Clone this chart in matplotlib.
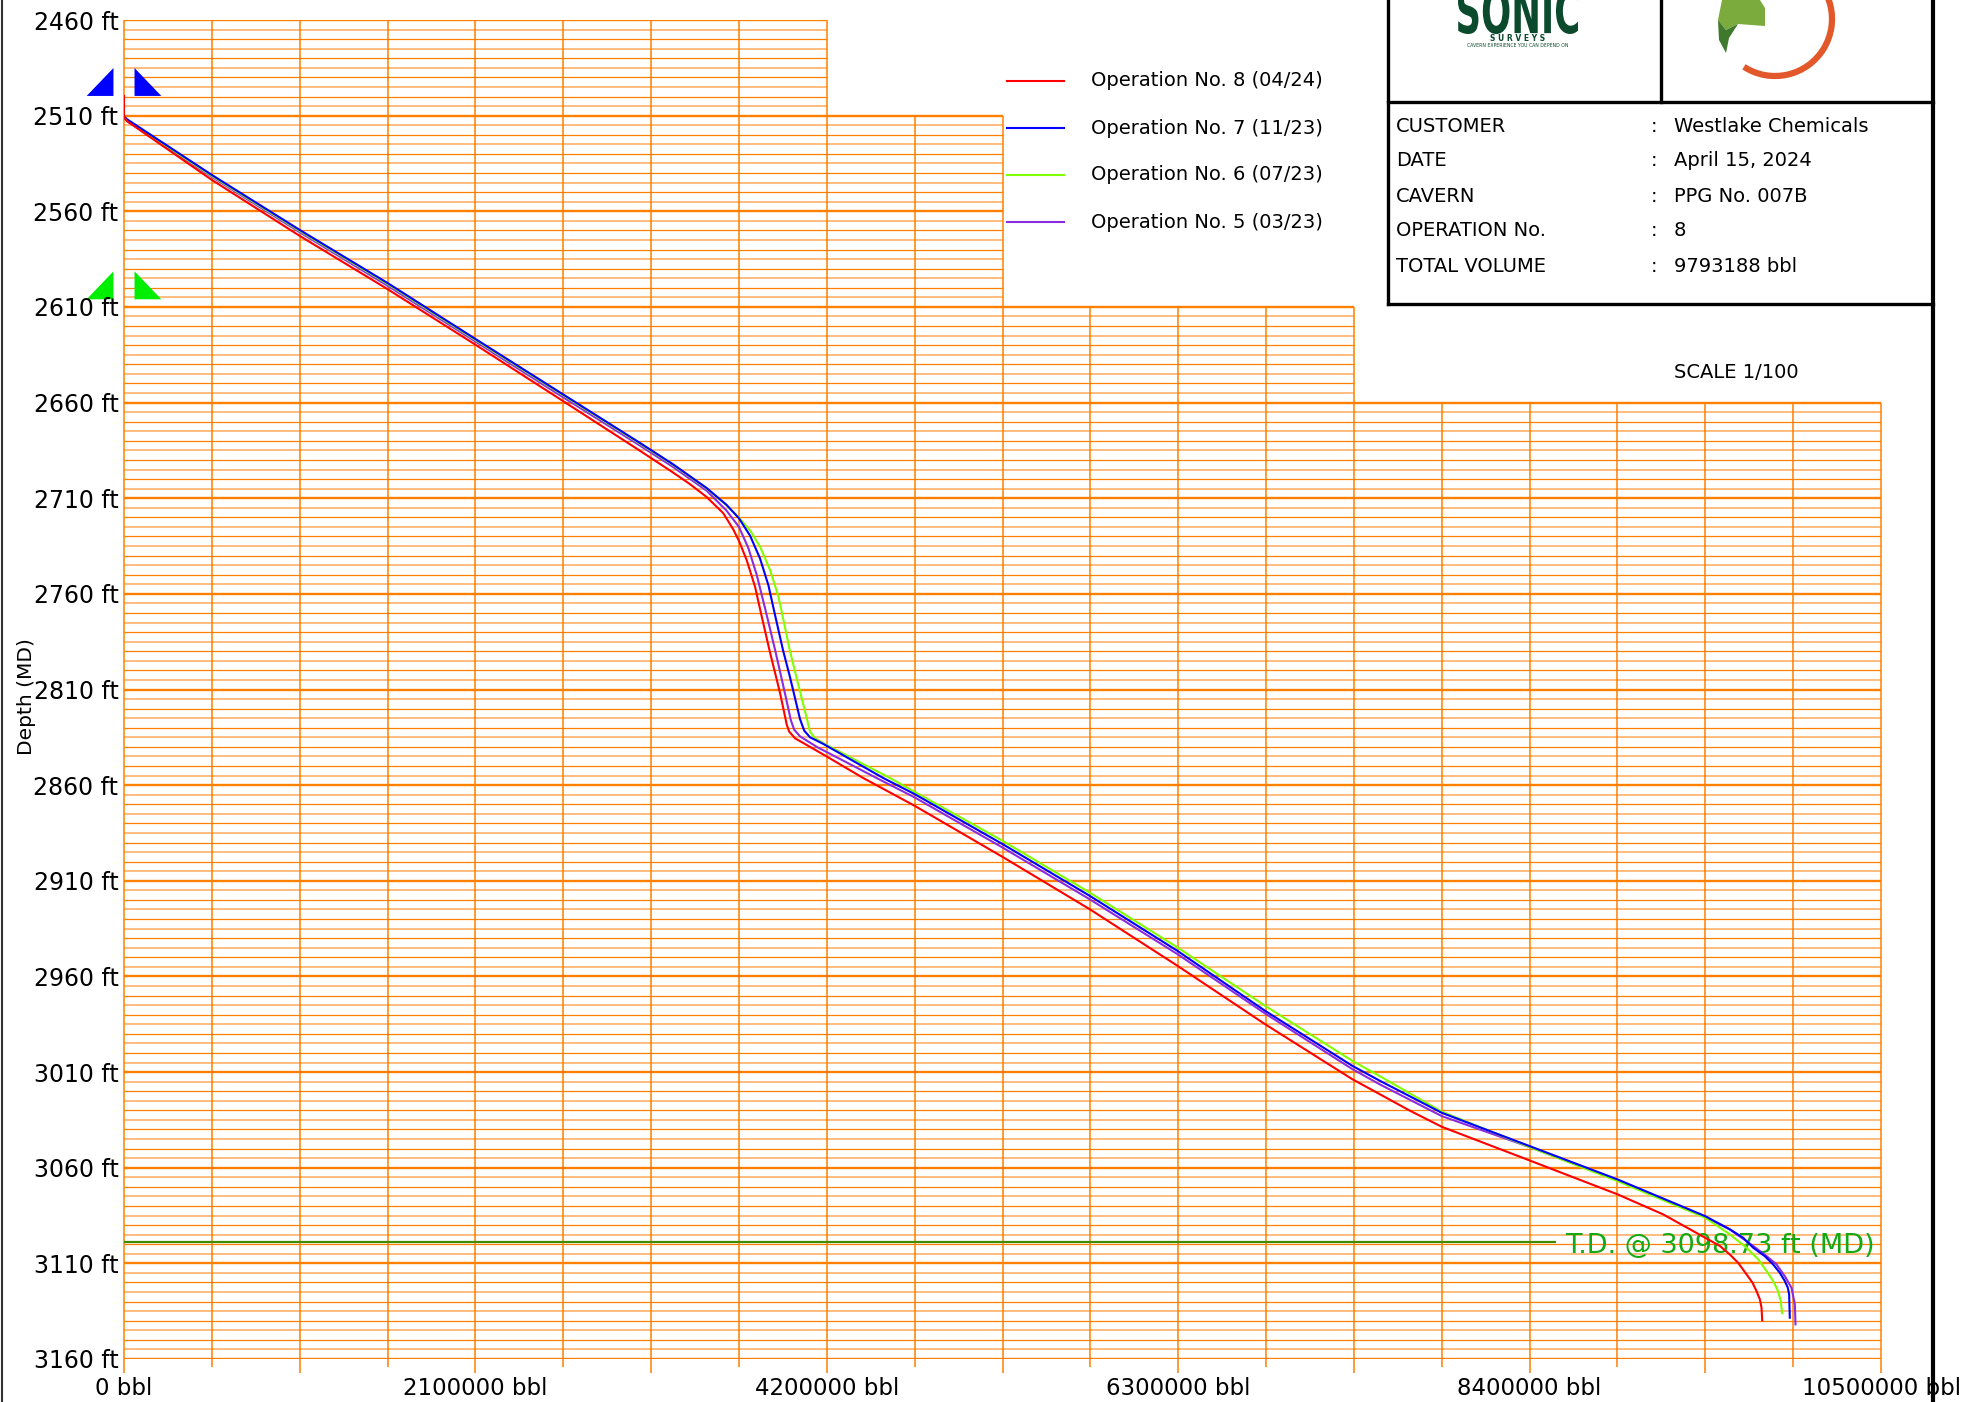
import numpy as np
import matplotlib.pyplot as plt
from matplotlib.patches import Polygon, Arc, PathPatch
from matplotlib.textpath import TextPath
from matplotlib.font_manager import FontProperties
from matplotlib.transforms import Affine2D

W, H = 1979, 1402

# cumulative volume (bbl) vs measured depth (ft) for each survey
op8_depth = [2499.7, 2511, 2513, 2543.6, 2572.9, 2600.8, 2629.9, 2659.5, 2685.0, 2696.5, 2702.5,
             2709.3, 2717.8, 2726.3, 2732.3, 2742.3, 2756.2, 2771.8, 2789.3, 2812, 2828.5, 2832,
             2835.5, 2838.5, 2845, 2856.3, 2870.8, 2897.5, 2924.8, 2954.4, 2984.9, 3013.7, 3030.2,
             3038.6, 3056.2, 3073.9, 3084.4, 3096.6, 3100.9, 3105.3, 3109.7, 3115.7, 3120.1,
             3124.5, 3128.8, 3133.2, 3139.8]
op8_vol = [0, 0, 20000, 525000, 1051000, 1577000, 2103000, 2629000, 3080000, 3280000, 3380000,
           3481000, 3581000, 3641000, 3675000, 3721000, 3771000, 3811000, 3857000, 3921000, 3961000, 3975000,
           4010000, 4070000, 4199000, 4418000, 4725000, 5250000, 5770000, 6295000, 6818000, 7340000, 7685000,
           7875000, 8400000, 8925000, 9198000, 9449000, 9537000, 9596000, 9646000, 9696000, 9732000,
           9756000, 9776000, 9786000, 9790000]

op7_depth = [2510.5, 2512, 2541, 2569.8, 2597.6, 2626.9, 2656, 2680.9, 2692.2, 2704.6, 2713.5,
             2720.5, 2729.5, 2741.5, 2755.5, 2771.2, 2789.3, 2803.5, 2825.5, 2831.5, 2835, 2838.5,
             2856.3, 2864.7, 2890.8, 2917.8, 2946.6, 2977.9, 3006.7, 3014.5, 3031.3, 3048.7,
             3066.1, 3085.3, 3092.2, 3096.6, 3101.8, 3106.2, 3110.5, 3114.9, 3119.2, 3122.7,
             3126.2, 3138.4]
op7_vol = [0, 20000, 525000, 1051000, 1577000, 2103000, 2629000, 3080000, 3280000, 3481000, 3601000,
           3675000, 3741000, 3801000, 3851000, 3891000, 3938000, 3980000, 4040000, 4065000, 4100000, 4180000,
           4538000, 4725000, 5250000, 5770000, 6295000, 6818000, 7340000, 7504000, 7875000, 8400000,
           8925000, 9449000, 9596000, 9676000, 9736000, 9805000, 9855000, 9895000, 9925000, 9943000,
           9951000, 9955000]

op6_depth = [2511, 2512.5, 2541.5, 2570.3, 2598.1, 2627.4, 2656.4, 2681.3, 2692.5, 2704.9, 2713.6,
             2720.2, 2726.8, 2735.3, 2747.5, 2761.4, 2775.3, 2789.3, 2811, 2832, 2835.5, 2839,
             2856.3, 2863.5, 2889.1, 2916.1, 2944.8, 2975.3, 3004.1, 3012.1, 3030.7, 3049.2,
             3067, 3086.1, 3094.8, 3101.8, 3107.9, 3114, 3119.2, 3124.5, 3129.7, 3136.1]
op6_vol = [0, 20000, 525000, 1051000, 1577000, 2103000, 2629000, 3080000, 3280000, 3481000, 3601000,
           3675000, 3741000, 3801000, 3861000, 3911000, 3945000, 3978000, 4040000, 4100000, 4130000, 4199000,
           4578000, 4725000, 5250000, 5770000, 6295000, 6818000, 7340000, 7504000, 7875000, 8400000,
           8925000, 9449000, 9596000, 9696000, 9766000, 9816000, 9855000, 9885000, 9901000, 9909000]

op5_depth = [2511, 2513, 2542, 2571, 2599, 2628.2, 2657.5, 2682.3, 2693.6, 2706, 2716.5,
             2725, 2736, 2750, 2767.5, 2789.3, 2812, 2826, 2831, 2834.5, 2840,
             2856.3, 2866.4, 2892.6, 2919.6, 2948.3, 2979.3, 3008.4, 3016.4, 3033, 3049.2,
             3066.5, 3085.7, 3092.2, 3100.9, 3106.2, 3110.5, 3116.7, 3122.7, 3131.4, 3141.9]
op5_vol = [0, 20000, 525000, 1051000, 1577000, 2103000, 2629000, 3080000, 3280000, 3481000, 3601000,
           3675000, 3731000, 3781000, 3831000, 3891000, 3950000, 3985000, 4005000, 4040000, 4140000,
           4498000, 4725000, 5250000, 5770000, 6295000, 6818000, 7340000, 7504000, 7875000, 8400000,
           8925000, 9449000, 9596000, 9736000, 9816000, 9875000, 9925000, 9965000, 9985000, 9989000]

series_labels = ['Operation No. 8 (04/24)', 'Operation No. 7 (11/23)',
                 'Operation No. 6 (07/23)', 'Operation No. 5 (03/23)']
series_colors = ['#ff0000', '#0000ff', '#80ff00', '#8a2be2']
series_depths = [op8_depth, op7_depth, op6_depth, op5_depth]
series_vols = [op8_vol, op7_vol, op6_vol, op5_vol]

td_depth = 3098.73
marker_depths = [2499.7, 2606.0]
marker_colors = ['#0000ff', '#00ee00']

depth_ticks = np.arange(2460, 3161, 50)
vol_ticks = np.arange(0, 10500001, 2100000)
grid_depths = np.arange(2460, 3161, 5)
grid_vols = np.arange(0, 10500001, 525000)

# stepped grid outline
band_tops = [2460, 2510, 2610, 2660]
band_bottom = 3160
band_right = [4200000, 5250000, 7350000, 10500000]

info_keys = ['CUSTOMER', 'DATE', 'CAVERN', 'OPERATION No.', 'TOTAL VOLUME']
info_vals = ['Westlake Chemicals', 'April 15, 2024', 'PPG No. 007B', '8', '9793188 bbl']

grid_col = '#ff8000'

fig = plt.figure(figsize=(W / 100, H / 100), dpi=100)
ax = fig.add_axes([124 / W, 1 - 1359 / H, 1757 / W, 1339 / H])
ax.set_xlim(0, 10500000)
ax.set_ylim(band_bottom, 2460)
for s in ax.spines.values():
    s.set_visible(False)

for d in grid_depths:
    i = np.searchsorted(band_tops, d, side='right') - 1
    if (d - 2460) % 50 == 0:
        col, lw = grid_col, 1.7
    elif d % 10 == 0:
        col, lw = grid_col, 0.9
    else:
        col, lw = '#ffaa5c', 1.1
    ax.hlines(d, 0, band_right[i], color=col, lw=lw, zorder=1)
for k, v in enumerate(grid_vols):
    i = np.searchsorted(band_right, v, side='left')
    ext = 7.3 if k % 2 == 0 else 4.2
    ax.vlines(v, band_tops[i], band_bottom + ext, color=grid_col, lw=1.1, zorder=1, clip_on=False)

ax.set_xticks(vol_ticks)
ax.set_xticklabels([f'{v} bbl' for v in vol_ticks], fontsize=16.5)
ax.set_yticks(depth_ticks)
ax.set_yticklabels([f'{d} ft' for d in depth_ticks], fontsize=17)
ax.tick_params(axis='x', length=0, pad=13)
ax.tick_params(axis='y', length=0, pad=4)

# total depth line
ax.hlines(td_depth, 0, 8560000, color='#3d8c00', lw=1.6, zorder=2)
ax.text(8610000, td_depth + 2, 'T.D. @ 3098.73 ft (MD)', color='#12aa12', fontsize=19.5,
        va='center', ha='left', zorder=3)

for dep, vol, col in list(zip(series_depths, series_vols, series_colors))[::-1]:
    ax.plot(vol, dep, color=col, lw=1.5, zorder=4, solid_joinstyle='round')

# casing markers
tri_w, tri_h, tri_gap = 160000, 14.6, 63000
for d, c in zip(marker_depths, marker_colors):
    ax.add_patch(Polygon([(-tri_gap, d), (-tri_gap - tri_w, d), (-tri_gap, d - tri_h)],
                         closed=True, color=c, clip_on=False, lw=0))
    ax.add_patch(Polygon([(tri_gap, d), (tri_gap + tri_w, d), (tri_gap, d - tri_h)],
                         closed=True, color=c, clip_on=False, lw=0))

# page decorations in pixel space
deco = fig.add_axes([0, 0, 1, 1], zorder=5)
deco.set_xlim(0, W)
deco.set_ylim(H, 0)
deco.axis('off')

deco.plot([1.5, 1.5], [0, H], color='#333333', lw=1.5)
deco.plot([1933, 1933], [0, H], color='black', lw=3)
deco.plot([1388, 1388], [0, 304], color='black', lw=2.4)
deco.plot([1661, 1661], [0, 102], color='black', lw=2.4)
deco.plot([1388, 1933], [102, 102], color='black', lw=2.4)
deco.plot([1388, 1933], [304, 304], color='black', lw=2.4)

for i, (k, v) in enumerate(zip(info_keys, info_vals)):
    y = 126 + i * 35
    deco.text(1396, y, k, fontsize=14, va='center')
    deco.text(1654, y, ':', fontsize=14, va='center', ha='center')
    deco.text(1674, y, v, fontsize=14, va='center')
deco.text(1674, 373, 'SCALE 1/100', fontsize=14, va='center')

for i, (lab, col) in enumerate(zip(series_labels, series_colors)):
    y = 81 + i * 47
    deco.plot([1007, 1064], [y, y], color=col, lw=1.5)
    deco.text(1091, y, lab, fontsize=14, va='center')

deco.text(26, 697, 'Depth (MD)', rotation=90, fontsize=14.5, va='center', ha='center')

# logos
tp = TextPath((0, 0), 'SONIC', size=100, prop=FontProperties(family='DejaVu Sans', weight='bold'))
ext = tp.get_extents()
tr = Affine2D().translate(-ext.x0, -ext.y0).scale(120 / ext.width, -46 / ext.height).translate(1458, 34)
deco.add_patch(PathPatch(tr.transform_path(tp), color='#0b4a2c', lw=0))
deco.text(1518, 38.5, 'S U R V E Y S', weight='bold', fontsize=5.5, color='#0b4a2c',
          ha='center', va='center')
deco.text(1518, 45.5, 'CAVERN EXPERIENCE YOU CAN DEPEND ON', fontsize=3.3, color='#0b4a2c',
          ha='center', va='center')
deco.add_patch(Arc((1775, 19), 114, 114, theta1=300, theta2=483, color='#e2582a', lw=4.5))
deco.add_patch(Polygon([(1722, 0), (1760, 0), (1765, 8), (1765, 26), (1738, 24), (1726, 30),
                        (1718, 20)], closed=True, color='#7aab3c', lw=0))
deco.add_patch(Polygon([(1718, 20), (1726, 30), (1738, 24), (1729, 38), (1726, 53), (1719, 40)],
                       closed=True, color='#3f7a2c', lw=0))

fig.savefig('out.png', dpi=100)
